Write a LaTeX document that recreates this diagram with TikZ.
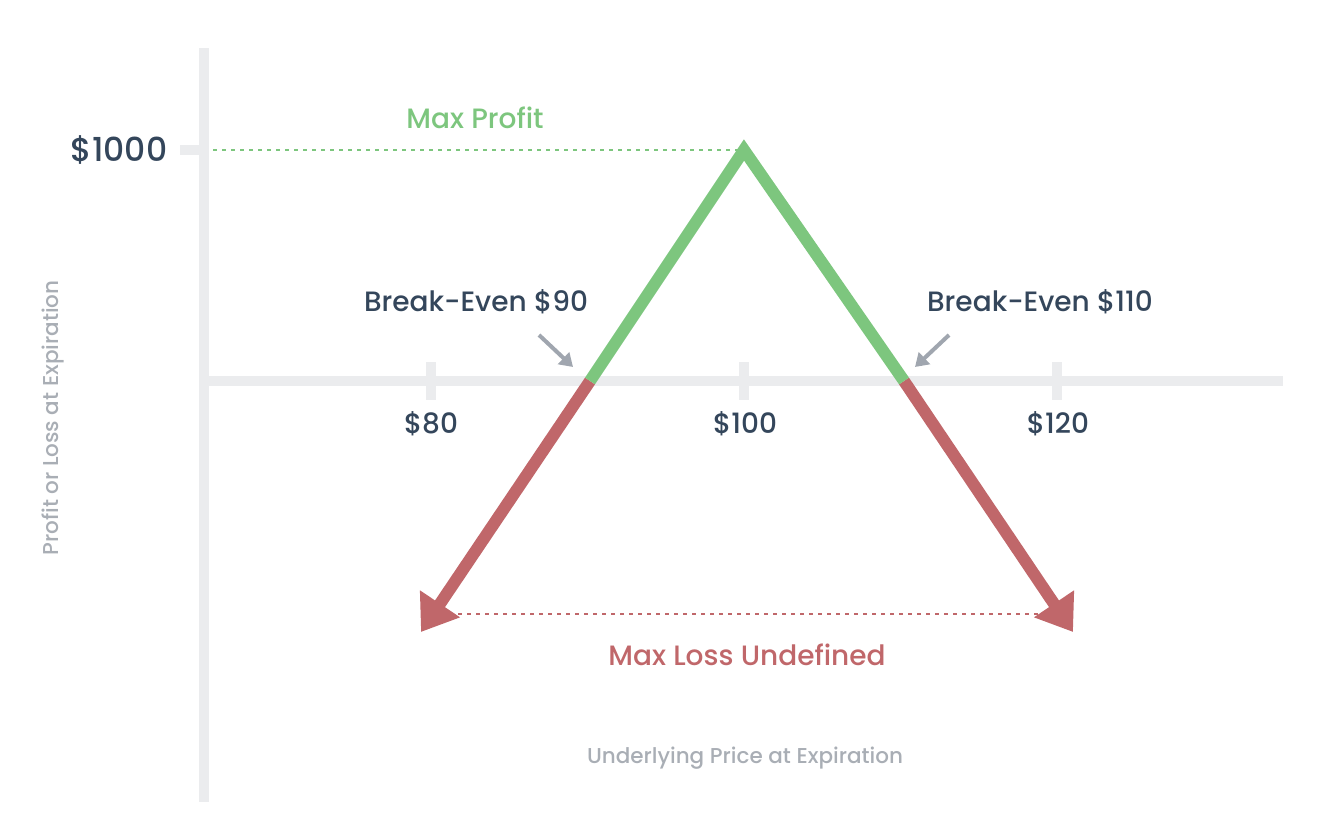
\documentclass[tikz,border=0pt]{standalone}
\usepackage{fontspec}
\setmainfont{Poppins}[UprightFont=* Medium]
\usetikzlibrary{arrows.meta}
\definecolor{axisgray}{HTML}{EBECEE}
\definecolor{pgreen}{HTML}{7DC67E}
\definecolor{lred}{HTML}{C0676A}
\definecolor{txt}{HTML}{34465B}
\definecolor{ptrgray}{HTML}{A0A6AF}
\definecolor{lblgray}{HTML}{A9AEB5}
\tikzset{
  axis/.style={draw=axisgray, line width=10pt},
  gainline/.style={draw=pgreen, line width=12pt, line join=miter},
  lossline/.style={draw=lred, line width=12pt, -{Triangle[width=46pt,length=34pt]}},
  guide/.style={line width=1.5pt, dash pattern=on 4pt off 5pt},
  pointer/.style={draw=ptrgray, line width=4pt, -{Triangle[width=16pt,length=13pt]}},
  lbl/.style={text=txt, font=\fontsize{28}{31}\selectfont, inner sep=0pt},
  biglbl/.style={text=txt, font=\fontsize{33}{36}\selectfont, inner sep=0pt},
  axlbl/.style={text=lblgray, font=\fontsize{21.5}{24}\selectfont, inner sep=0pt}
}
\begin{document}
\begin{tikzpicture}[x=1pt,y=-1pt]
\useasboundingbox (0,0) rectangle (1332,816);
% axes
\coordinate (ytop) at (204,48);
\coordinate (ybot) at (204,802);
\coordinate (xleft) at (204,381);
\coordinate (xright) at (1283,381);
\draw[axis] (ytop) -- (ybot);
\draw[axis] (xleft) -- (xright);
% ticks
\coordinate (t1a) at (180,150); \coordinate (t1b) at (204,150);
\draw[axis] (t1a) -- (t1b);
\foreach \x/\n in {431/a,744/b,1057/c}{
  \coordinate (tk\n1) at (\x,362); \coordinate (tk\n2) at (\x,400);
  \draw[axis] (tk\n1) -- (tk\n2);
}
% key points
\coordinate (peak) at (744,150);
\coordinate (be1) at (590,381);
\coordinate (be2) at (904,381);
\coordinate (tipL) at (421,632);
\coordinate (tipR) at (1073,632);
% guides
\coordinate (g1) at (213,150); \coordinate (g2) at (738,150);
\draw[guide, pgreen] (g1) -- (g2);
\coordinate (r1) at (440,614); \coordinate (r2) at (1055,614);
\draw[guide, lred] (r1) -- (r2);
% payoff
\draw[lossline] (be1) -- (tipL);
\draw[lossline] (be2) -- (tipR);
\draw[gainline] (be1) -- (peak) -- (be2);
% pointers
\coordinate (p1s) at (539,335); \coordinate (p1e) at (573,367);
\coordinate (p2s) at (949,335); \coordinate (p2e) at (915,367);
\draw[pointer] (p1s) -- (p1e);
\draw[pointer] (p2s) -- (p2e);
% labels
\node[lbl, text=pgreen] (maxp) at (475,118) {Max Profit};
\node[biglbl] (k1000) at (119,150) {\$1000};
\node[lbl] (be90) at (476,302) {Break-Even \$90};
\node[lbl] (be110) at (1040,302) {Break-Even \$110};
\node[lbl] (l80) at (431,424) {\$80};
\node[lbl] (l100) at (745,424) {\$100};
\node[lbl] (l120) at (1058,424) {\$120};
\node[lbl, text=lred] (maxl) at (747,655) {Max Loss Undefined};
\node[axlbl] (xl) at (745,758) {Underlying Price at Expiration};
\node[axlbl, rotate=90] (yl) at (53,418) {Profit or Loss at Expiration};
\end{tikzpicture}
\end{document}
